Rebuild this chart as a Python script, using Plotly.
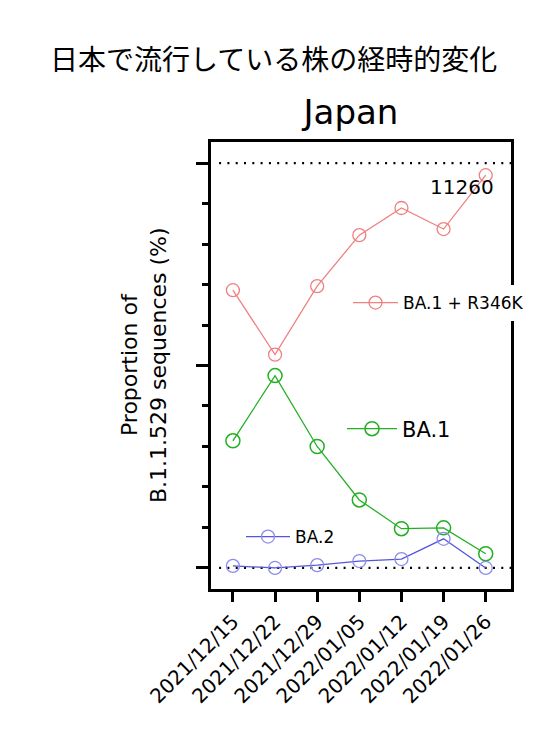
import plotly.graph_objects as go

dates = [
    "2021/12/15", "2021/12/22", "2021/12/29", "2022/01/05",
    "2022/01/12", "2022/01/19", "2022/01/26",
]

ba1_r346k = [68.6, 52.7, 69.6, 82.2, 88.9, 83.7, 97.0]
ba1 = [31.4, 47.5, 30.0, 16.8, 9.7, 9.9, 3.5]
ba2 = [0.5, 0.0, 0.7, 1.7, 2.2, 7.2, 0.0]

FONT = "DejaVu Sans, Arial, sans-serif"

fig = go.Figure()

fig.add_trace(go.Scatter(
    x=dates, y=ba1_r346k, name="BA.1 + R346K", mode="lines+markers",
    line=dict(color="#f08080", width=1.3),
    marker=dict(symbol="circle-open", size=13, color="#f08080", line=dict(width=1.3)),
    legend="legend", showlegend=True,
))
fig.add_trace(go.Scatter(
    x=dates, y=ba1, name="BA.1", mode="lines+markers",
    line=dict(color="#22b022", width=1.3),
    marker=dict(symbol="circle-open", size=14, color="#22b022", line=dict(width=1.5)),
    legend="legend2", showlegend=True,
))
fig.add_trace(go.Scatter(
    x=dates, y=ba2, name="BA.2", mode="lines+markers",
    line=dict(color="#5555dd", width=1.3),
    marker=dict(symbol="circle-open", size=13, color="#8c8cee", line=dict(width=1.3)),
    legend="legend3", showlegend=True,
))

# dotted reference lines at 0% and 100%
for yv in [0, 100]:
    fig.add_shape(type="line", xref="paper", yref="y", x0=0.027, x1=1, y0=yv, y1=yv,
                  line=dict(color="black", width=2.2, dash="2px,6.3px"), layer="below")

fig.update_layout(
    width=530, height=725,
    margin=dict(l=203, r=27, t=134, b=144, autoexpand=False),
    paper_bgcolor="white", plot_bgcolor="white",
    font=dict(family=FONT, color="black"),
    showlegend=True,
    title=dict(text="Japan", x=(351 - 211) / 300, xref="paper", xanchor="center",
               y=1 - 104 / 725, yref="container", yanchor="middle",
               font=dict(size=34, family=FONT)),
    legend=dict(x=(348 - 211) / 300, y=(589 - 303) / 447, xanchor="left", yanchor="middle",
                bgcolor="white", font=dict(size=17), itemwidth=45),
    legend2=dict(x=(342 - 211) / 300, y=(589 - 429) / 447, xanchor="left", yanchor="middle",
                 bgcolor="rgba(0,0,0,0)", font=dict(size=21), itemwidth=50),
    legend3=dict(x=(241 - 211) / 300, y=(589 - 537) / 447, xanchor="left", yanchor="middle",
                 bgcolor="rgba(0,0,0,0)", font=dict(size=17), itemwidth=44),
    annotations=[
        dict(text="日本で流行している株の経時的変化", xref="paper", yref="paper",
             x=(273 - 211) / 300, y=1 + (142 - 58) / 447, showarrow=False,
             font=dict(size=28, family="Noto Sans CJK JP"), xanchor="center", yanchor="middle"),
        dict(text="Proportion of<br>B.1.1.529 sequences (%)", xref="paper", yref="paper",
             x=(144 - 211) / 300, y=(589 - 365) / 447, textangle=-90, showarrow=False,
             font=dict(size=22), xanchor="center", yanchor="middle"),
        dict(text="11260", xref="paper", yref="paper",
             x=(496 - 211) / 300, y=(589 - 187) / 447, showarrow=False,
             font=dict(size=20), xanchor="right", yanchor="middle"),
    ],
)

fig.update_xaxes(
    type="category", range=[-0.52, 6.6],
    showline=True, linewidth=3, linecolor="black", mirror=True,
    ticks="outside", ticklen=10, tickwidth=3, tickcolor="black",
    tickangle=-45, tickfont=dict(size=20), showgrid=False, zeroline=False,
)
fig.update_yaxes(
    range=[-5.2, 105.2], tickvals=[0, 50, 100], showticklabels=False,
    showline=True, linewidth=3, linecolor="black", mirror=True,
    ticks="outside", ticklen=12, tickwidth=3, tickcolor="black",
    minor=dict(tickvals=[10, 20, 30, 40, 60, 70, 80, 90], ticks="outside",
               ticklen=6, tickwidth=3, tickcolor="black"),
    showgrid=False, zeroline=False,
)

fig.write_html("out.html")
